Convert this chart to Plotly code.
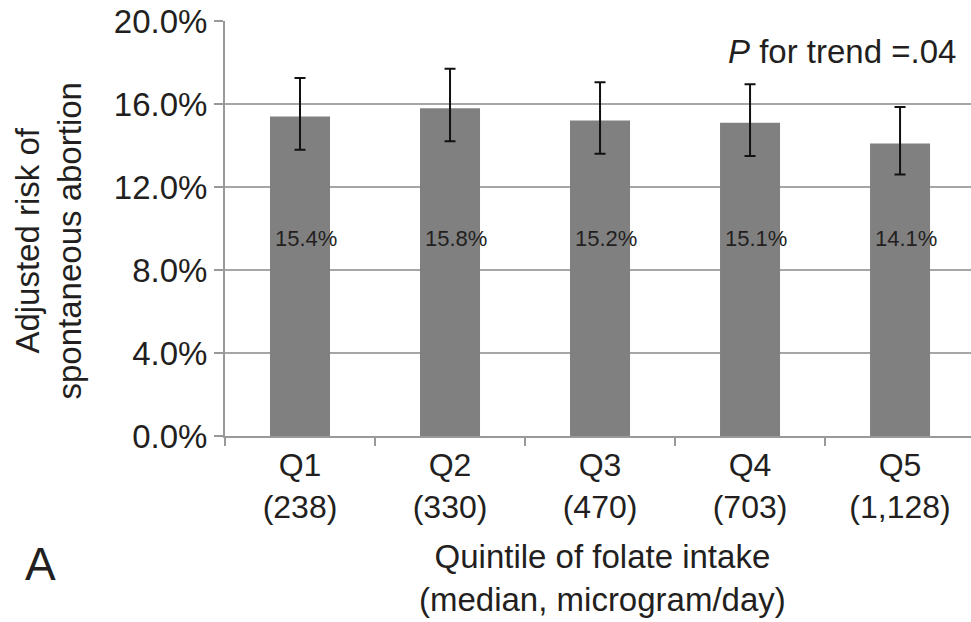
import plotly.graph_objects as go

categories = ["Q1<br>(238)", "Q2<br>(330)", "Q3<br>(470)", "Q4<br>(703)", "Q5<br>(1,128)"]
risk = [15.4, 15.8, 15.2, 15.1, 14.1]
ci_upper = [17.25, 17.7, 17.05, 16.95, 15.85]
ci_lower = [13.8, 14.2, 13.6, 13.5, 12.6]
bar_labels = ["15.4%", "15.8%", "15.2%", "15.1%", "14.1%"]
y_ticks = [0, 4, 8, 12, 16, 20]
y_tick_labels = ["0.0%", "4.0%", "8.0%", "12.0%", "16.0%", "20.0%"]
label_y = 9.5

FONT = "Liberation Sans, Arial, sans-serif"
TXT = "#231f20"

err_plus = [u - v for u, v in zip(ci_upper, risk)]
err_minus = [v - l for v, l in zip(risk, ci_lower)]

fig = go.Figure()
fig.add_trace(go.Bar(
    x=categories, y=risk, width=0.4,
    marker=dict(color="#808080", line=dict(width=0)),
    error_y=dict(type="data", symmetric=False, array=err_plus, arrayminus=err_minus,
                 color="#111111", thickness=2, width=5.5),
    hoverinfo="skip",
))

for c, t in zip(categories, bar_labels):
    fig.add_annotation(x=c, y=label_y, xref="x", yref="y", text=t, showarrow=False,
                       xshift=6, font=dict(family=FONT, size=22, color=TXT))

fig.add_annotation(xref="paper", yref="paper", x=1, y=1, xanchor="right", yanchor="middle",
                   xshift=-13, yshift=-30, showarrow=False,
                   text="<i>P</i> for trend =.04", font=dict(family=FONT, size=33, color=TXT))

fig.add_annotation(xref="paper", yref="paper", x=0, y=0.5, xanchor="center", yanchor="middle",
                   xshift=-177, yshift=-13, showarrow=False, textangle=-90,
                   text="Adjusted risk of<br>spontaneous abortion",
                   font=dict(family=FONT, size=33, color=TXT))

fig.add_annotation(xref="paper", yref="paper", x=0.5, y=0, xanchor="center", yanchor="top",
                   xshift=4, yshift=-100, showarrow=False,
                   text="Quintile of folate intake<br>(median, microgram/day)",
                   font=dict(family=FONT, size=33, color=TXT))

fig.add_annotation(xref="paper", yref="paper", x=0, y=0, xanchor="center", yanchor="middle",
                   xshift=-185, yshift=-128, showarrow=False, text="A",
                   font=dict(family=FONT, size=46, color=TXT))

fig.update_layout(
    width=971, height=622,
    margin=dict(l=225, r=0, t=21, b=186),
    paper_bgcolor="white", plot_bgcolor="white",
    showlegend=False,
    font=dict(family=FONT, size=33, color=TXT),
    xaxis=dict(type="category", range=[-0.5, 4.473], tickson="boundaries",
               ticks="outside", ticklen=8, tickcolor="#999999", tickwidth=2,
               showline=True, linecolor="#999999", linewidth=2,
               showgrid=False, tickfont=dict(family=FONT, size=32, color=TXT)),
    yaxis=dict(range=[0, 20], tickvals=y_ticks, ticktext=y_tick_labels,
               ticks="outside", ticklen=9, tickcolor="#999999", tickwidth=2,
               showline=True, linecolor="#999999", linewidth=2,
               showgrid=True, gridcolor="#a6a6a6", gridwidth=1.5,
               zeroline=False, tickfont=dict(family=FONT, size=33, color=TXT)),
)

fig.write_html("out.html", config={"displayModeBar": False},
               post_script="document.body.style.margin='0px';document.body.style.overflow='hidden';")
